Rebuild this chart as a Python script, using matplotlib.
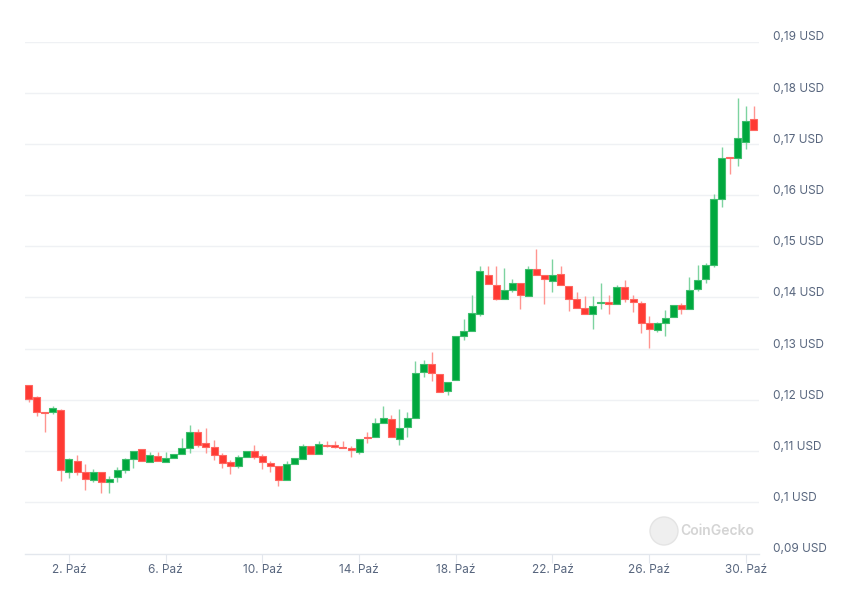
#!/usr/bin/env python3
"""
plot.py
8h candlestick chart (CoinGecko style), price in USD, October.
Saves out.png (860x591).
"""
import pandas as pd
import matplotlib
matplotlib.use("Agg")
import matplotlib.pyplot as plt
import matplotlib.dates as mdates
from matplotlib.patches import Rectangle, Ellipse
from matplotlib.transforms import blended_transform_factory, offset_copy

# --- data (one candle every 8 hours) ---
first_candle = "2024-09-30 08:00"
candle_hours = 8

opens = [0.1229, 0.1205, 0.1177, 0.1176, 0.1180, 0.1059, 0.1080, 0.1060, 0.1044, 0.1059,
         0.1039, 0.1049, 0.1063, 0.1084, 0.1104, 0.1078, 0.1090, 0.1078, 0.1086, 0.1094,
         0.1106, 0.1138, 0.1115, 0.1108, 0.1092, 0.1078, 0.1071, 0.1088, 0.1101, 0.1090,
         0.1076, 0.1070, 0.1044, 0.1074, 0.1084, 0.1110, 0.1095, 0.1112, 0.1112, 0.1108,
         0.1106, 0.1099, 0.1128, 0.1128, 0.1154, 0.1163, 0.1124, 0.1147, 0.1164, 0.1254,
         0.1270, 0.1250, 0.1218, 0.1239, 0.1324, 0.1335, 0.1368, 0.1444, 0.1425, 0.1398,
         0.1415, 0.1428, 0.1403, 0.1455, 0.1444, 0.1432, 0.1445, 0.1423, 0.1397, 0.1379,
         0.1367, 0.1389, 0.1392, 0.1387, 0.1421, 0.1398, 0.1390, 0.1350, 0.1337, 0.1350,
         0.1361, 0.1385, 0.1377, 0.1416, 0.1436, 0.1464, 0.1592, 0.1675, 0.1672, 0.1703,
         0.1748]
highs = [0.1229, 0.1208, 0.1177, 0.1189, 0.1182, 0.1087, 0.1093, 0.1074, 0.1065, 0.1059,
         0.1051, 0.1068, 0.1086, 0.1101, 0.1104, 0.1098, 0.1098, 0.1098, 0.1094, 0.1126,
         0.1151, 0.1143, 0.1145, 0.1121, 0.1097, 0.1082, 0.1093, 0.1101, 0.1112, 0.1095,
         0.1081, 0.1070, 0.1081, 0.1086, 0.1113, 0.1110, 0.1120, 0.1120, 0.1120, 0.1120,
         0.1110, 0.1123, 0.1138, 0.1164, 0.1188, 0.1171, 0.1183, 0.1177, 0.1276, 0.1278,
         0.1294, 0.1250, 0.1235, 0.1324, 0.1358, 0.1404, 0.1462, 0.1462, 0.1462, 0.1458,
         0.1436, 0.1428, 0.1462, 0.1494, 0.1444, 0.1475, 0.1462, 0.1423, 0.1411, 0.1403,
         0.1402, 0.1429, 0.1405, 0.1425, 0.1434, 0.1405, 0.1394, 0.1364, 0.1353, 0.1376,
         0.1385, 0.1390, 0.1441, 0.1463, 0.1468, 0.1602, 0.1694, 0.1675, 0.1790, 0.1775,
         0.1775]
lows = [0.1195, 0.1169, 0.1137, 0.1173, 0.1042, 0.1048, 0.1054, 0.1024, 0.1039, 0.1018,
        0.1018, 0.1039, 0.1058, 0.1067, 0.1080, 0.1078, 0.1080, 0.1078, 0.1086, 0.1094,
        0.1097, 0.1108, 0.1097, 0.1083, 0.1067, 0.1055, 0.1067, 0.1088, 0.1085, 0.1065,
        0.1060, 0.1031, 0.1044, 0.1074, 0.1084, 0.1095, 0.1095, 0.1108, 0.1106, 0.1106,
        0.1089, 0.1095, 0.1115, 0.1128, 0.1154, 0.1127, 0.1111, 0.1128, 0.1164, 0.1244,
        0.1236, 0.1215, 0.1209, 0.1239, 0.1317, 0.1335, 0.1363, 0.1427, 0.1395, 0.1398,
        0.1410, 0.1378, 0.1403, 0.1443, 0.1387, 0.1410, 0.1424, 0.1373, 0.1379, 0.1368,
        0.1338, 0.1378, 0.1367, 0.1387, 0.1392, 0.1372, 0.1330, 0.1301, 0.1333, 0.1325,
        0.1361, 0.1367, 0.1377, 0.1413, 0.1429, 0.1459, 0.1576, 0.1642, 0.1656, 0.1690,
        0.1728]
closes = [0.1202, 0.1176, 0.1174, 0.1184, 0.1063, 0.1085, 0.1060, 0.1045, 0.1060, 0.1040,
          0.1045, 0.1063, 0.1084, 0.1100, 0.1080, 0.1092, 0.1080, 0.1086, 0.1094, 0.1106,
          0.1138, 0.1112, 0.1108, 0.1093, 0.1076, 0.1071, 0.1088, 0.1101, 0.1089, 0.1078,
          0.1071, 0.1044, 0.1074, 0.1086, 0.1110, 0.1095, 0.1113, 0.1110, 0.1108, 0.1106,
          0.1102, 0.1123, 0.1126, 0.1154, 0.1164, 0.1127, 0.1145, 0.1164, 0.1252, 0.1270,
          0.1252, 0.1215, 0.1235, 0.1324, 0.1335, 0.1369, 0.1452, 0.1427, 0.1398, 0.1415,
          0.1428, 0.1404, 0.1455, 0.1443, 0.1436, 0.1444, 0.1424, 0.1397, 0.1379, 0.1368,
          0.1384, 0.1392, 0.1387, 0.1421, 0.1398, 0.1392, 0.1350, 0.1338, 0.1350, 0.1359,
          0.1385, 0.1377, 0.1415, 0.1434, 0.1464, 0.1592, 0.1672, 0.1672, 0.1711, 0.1744,
          0.1728]

x_tick_dates = ["2024-10-02", "2024-10-06", "2024-10-10", "2024-10-14",
                "2024-10-18", "2024-10-22", "2024-10-26", "2024-10-30"]
x_tick_labels = ["2. Paź", "6. Paź", "10. Paź", "14. Paź",
                 "18. Paź", "22. Paź", "26. Paź", "30. Paź"]
y_ticks = [0.09, 0.10, 0.11, 0.12, 0.13, 0.14, 0.15, 0.16, 0.17, 0.18, 0.19]
y_tick_labels = ["0,09 USD", "0,1 USD", "0,11 USD", "0,12 USD", "0,13 USD", "0,14 USD",
                 "0,15 USD", "0,16 USD", "0,17 USD", "0,18 USD", "0,19 USD"]

UP, UP_EDGE, UP_WICK = "#00a83e", "#3dbd6c", "#7dd3a0"
DOWN, DOWN_EDGE, DOWN_WICK = "#ff3a33", "#ff6660", "#ff9590"
GRID = "#eff1f4"
AXIS = "#e3e7ed"
TEXT = "#58667e"

W, H = 860, 591


def draw_candles(ax, times):
    body_w = 0.29  # days
    for t, o, h, l, c in zip(times, opens, highs, lows, closes):
        up = c >= o
        ax.vlines(t, l, h, color=UP_WICK if up else DOWN_WICK, lw=1.0, zorder=2)
        lo, hi = min(o, c), max(o, c)
        if hi - lo < 0.0003:
            mid = (hi + lo) / 2
            lo, hi = mid - 0.00015, mid + 0.00015
        ax.add_patch(Rectangle((t - body_w / 2, lo), body_w, hi - lo,
                               facecolor=UP if up else DOWN,
                               edgecolor=UP_EDGE if up else DOWN_EDGE,
                               lw=0.8, zorder=3))


def main():
    plt.rcParams["font.family"] = ["Inter", "DejaVu Sans"]
    fig = plt.figure(figsize=(W / 100, H / 100), dpi=100)
    ax = fig.add_axes([25 / W, (H - 553.5) / H, 734 / W, 512 / H])

    times = mdates.date2num(pd.date_range(first_candle, periods=len(closes),
                                          freq=f"{candle_hours}h"))
    draw_candles(ax, times)

    ax.set_xlim(times[0] - 0.153, times[0] + 30.21)
    ax.set_ylim(y_ticks[0], y_ticks[-1])

    # grid
    for v in y_ticks[1:]:
        ax.axhline(v, color=GRID, lw=1.0, zorder=0)
    for s in ["top", "right", "left"]:
        ax.spines[s].set_visible(False)
    ax.spines["bottom"].set_color(AXIS)
    ax.spines["bottom"].set_linewidth(1.0)

    ax.set_yticks([])
    ax.set_xticks(mdates.date2num(pd.to_datetime(x_tick_dates)))
    ax.set_xticklabels(x_tick_labels, fontsize=8.5, color=TEXT)
    ax.tick_params(axis="x", length=6.5, width=0.8, color=AXIS, pad=0.8)

    # y labels on the right, a bit above their grid line
    tr = offset_copy(blended_transform_factory(ax.transAxes, ax.transData),
                     fig=fig, x=0, y=4, units="dots")
    for v, lab in zip(y_ticks, y_tick_labels):
        ax.text(1.019, v, lab, transform=tr, ha="left", va="center",
                fontsize=8.5, color=TEXT, clip_on=False)

    # watermark
    fig.patches.append(Ellipse((664 / W, (H - 531) / H), 28 / W, 28 / H,
                               transform=fig.transFigure,
                               facecolor="#efefef", edgecolor="#e4e4e4", lw=1))
    fig.text(680 / W, (H - 531) / H, "CoinGecko", fontsize=10, color="#d4d4d4",
             ha="left", va="center", fontweight="semibold")

    fig.savefig("out.png", dpi=100)
    plt.close(fig)


if __name__ == "__main__":
    main()
